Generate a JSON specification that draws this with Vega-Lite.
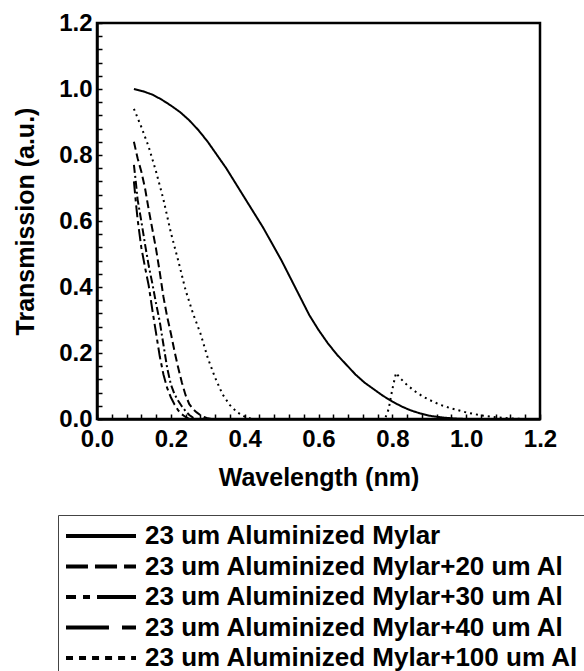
{
  "$schema": "https://vega.github.io/schema/vega-lite/v6.json",
  "autosize": {"type": "none"},
  "padding": {"left": 97, "top": 23, "right": 44, "bottom": 252},
  "width": 443,
  "height": 396,
  "background": "white",
  "config": {
    "font": "Liberation Sans",
    "view": {"stroke": "black", "strokeWidth": 2.5},
    "axis": {
      "domainColor": "black", "domainWidth": 2.5, "grid": false,
      "tickColor": "black", "tickWidth": 1.5, "tickSize": -5,
      "labelFont": "Liberation Sans", "labelFontWeight": "bold", "labelFontSize": 24, "labelColor": "black",
      "titleFont": "Liberation Sans", "titleFontWeight": "bold", "titleFontSize": 25, "titleColor": "black"
    }
  },
  "data": {"values": [
    {"s": "23 um Aluminized Mylar", "x": 0.1, "y": 1.0},
    {"s": "23 um Aluminized Mylar", "x": 0.125, "y": 0.993},
    {"s": "23 um Aluminized Mylar", "x": 0.15, "y": 0.983},
    {"s": "23 um Aluminized Mylar", "x": 0.175, "y": 0.968},
    {"s": "23 um Aluminized Mylar", "x": 0.2, "y": 0.95},
    {"s": "23 um Aluminized Mylar", "x": 0.225, "y": 0.93},
    {"s": "23 um Aluminized Mylar", "x": 0.25, "y": 0.905},
    {"s": "23 um Aluminized Mylar", "x": 0.275, "y": 0.875},
    {"s": "23 um Aluminized Mylar", "x": 0.3, "y": 0.84},
    {"s": "23 um Aluminized Mylar", "x": 0.325, "y": 0.8},
    {"s": "23 um Aluminized Mylar", "x": 0.35, "y": 0.76},
    {"s": "23 um Aluminized Mylar", "x": 0.375, "y": 0.715},
    {"s": "23 um Aluminized Mylar", "x": 0.4, "y": 0.67},
    {"s": "23 um Aluminized Mylar", "x": 0.425, "y": 0.625},
    {"s": "23 um Aluminized Mylar", "x": 0.45, "y": 0.58},
    {"s": "23 um Aluminized Mylar", "x": 0.475, "y": 0.53},
    {"s": "23 um Aluminized Mylar", "x": 0.5, "y": 0.48},
    {"s": "23 um Aluminized Mylar", "x": 0.525, "y": 0.425},
    {"s": "23 um Aluminized Mylar", "x": 0.55, "y": 0.37},
    {"s": "23 um Aluminized Mylar", "x": 0.575, "y": 0.315},
    {"s": "23 um Aluminized Mylar", "x": 0.6, "y": 0.27},
    {"s": "23 um Aluminized Mylar", "x": 0.625, "y": 0.23},
    {"s": "23 um Aluminized Mylar", "x": 0.65, "y": 0.195},
    {"s": "23 um Aluminized Mylar", "x": 0.675, "y": 0.165},
    {"s": "23 um Aluminized Mylar", "x": 0.7, "y": 0.135},
    {"s": "23 um Aluminized Mylar", "x": 0.725, "y": 0.11},
    {"s": "23 um Aluminized Mylar", "x": 0.75, "y": 0.09},
    {"s": "23 um Aluminized Mylar", "x": 0.775, "y": 0.07},
    {"s": "23 um Aluminized Mylar", "x": 0.8, "y": 0.053},
    {"s": "23 um Aluminized Mylar", "x": 0.825, "y": 0.038},
    {"s": "23 um Aluminized Mylar", "x": 0.85, "y": 0.026},
    {"s": "23 um Aluminized Mylar", "x": 0.875, "y": 0.017},
    {"s": "23 um Aluminized Mylar", "x": 0.9, "y": 0.01},
    {"s": "23 um Aluminized Mylar", "x": 0.925, "y": 0.006},
    {"s": "23 um Aluminized Mylar", "x": 0.95, "y": 0.003},
    {"s": "23 um Aluminized Mylar", "x": 0.975, "y": 0.001},
    {"s": "23 um Aluminized Mylar", "x": 1.0, "y": 0.0},

    {"s": "23 um Aluminized Mylar+20 um Al", "x": 0.1, "y": 0.84},
    {"s": "23 um Aluminized Mylar+20 um Al", "x": 0.11, "y": 0.79},
    {"s": "23 um Aluminized Mylar+20 um Al", "x": 0.12, "y": 0.75},
    {"s": "23 um Aluminized Mylar+20 um Al", "x": 0.13, "y": 0.7},
    {"s": "23 um Aluminized Mylar+20 um Al", "x": 0.14, "y": 0.635},
    {"s": "23 um Aluminized Mylar+20 um Al", "x": 0.15, "y": 0.575},
    {"s": "23 um Aluminized Mylar+20 um Al", "x": 0.16, "y": 0.515},
    {"s": "23 um Aluminized Mylar+20 um Al", "x": 0.17, "y": 0.445},
    {"s": "23 um Aluminized Mylar+20 um Al", "x": 0.18, "y": 0.37},
    {"s": "23 um Aluminized Mylar+20 um Al", "x": 0.19, "y": 0.31},
    {"s": "23 um Aluminized Mylar+20 um Al", "x": 0.2, "y": 0.26},
    {"s": "23 um Aluminized Mylar+20 um Al", "x": 0.21, "y": 0.205},
    {"s": "23 um Aluminized Mylar+20 um Al", "x": 0.22, "y": 0.155},
    {"s": "23 um Aluminized Mylar+20 um Al", "x": 0.23, "y": 0.11},
    {"s": "23 um Aluminized Mylar+20 um Al", "x": 0.24, "y": 0.072},
    {"s": "23 um Aluminized Mylar+20 um Al", "x": 0.25, "y": 0.045},
    {"s": "23 um Aluminized Mylar+20 um Al", "x": 0.26, "y": 0.03},
    {"s": "23 um Aluminized Mylar+20 um Al", "x": 0.27, "y": 0.02},
    {"s": "23 um Aluminized Mylar+20 um Al", "x": 0.28, "y": 0.012},
    {"s": "23 um Aluminized Mylar+20 um Al", "x": 0.29, "y": 0.006},
    {"s": "23 um Aluminized Mylar+20 um Al", "x": 0.3, "y": 0.002},
    {"s": "23 um Aluminized Mylar+20 um Al", "x": 0.31, "y": 0.0},

    {"s": "23 um Aluminized Mylar+30 um Al", "x": 0.1, "y": 0.77},
    {"s": "23 um Aluminized Mylar+30 um Al", "x": 0.105, "y": 0.72},
    {"s": "23 um Aluminized Mylar+30 um Al", "x": 0.11, "y": 0.665},
    {"s": "23 um Aluminized Mylar+30 um Al", "x": 0.12, "y": 0.6},
    {"s": "23 um Aluminized Mylar+30 um Al", "x": 0.13, "y": 0.53},
    {"s": "23 um Aluminized Mylar+30 um Al", "x": 0.14, "y": 0.465},
    {"s": "23 um Aluminized Mylar+30 um Al", "x": 0.15, "y": 0.41},
    {"s": "23 um Aluminized Mylar+30 um Al", "x": 0.16, "y": 0.35},
    {"s": "23 um Aluminized Mylar+30 um Al", "x": 0.17, "y": 0.295},
    {"s": "23 um Aluminized Mylar+30 um Al", "x": 0.18, "y": 0.225},
    {"s": "23 um Aluminized Mylar+30 um Al", "x": 0.19, "y": 0.155},
    {"s": "23 um Aluminized Mylar+30 um Al", "x": 0.2, "y": 0.105},
    {"s": "23 um Aluminized Mylar+30 um Al", "x": 0.21, "y": 0.075},
    {"s": "23 um Aluminized Mylar+30 um Al", "x": 0.22, "y": 0.055},
    {"s": "23 um Aluminized Mylar+30 um Al", "x": 0.23, "y": 0.038},
    {"s": "23 um Aluminized Mylar+30 um Al", "x": 0.24, "y": 0.024},
    {"s": "23 um Aluminized Mylar+30 um Al", "x": 0.25, "y": 0.012},
    {"s": "23 um Aluminized Mylar+30 um Al", "x": 0.26, "y": 0.004},
    {"s": "23 um Aluminized Mylar+30 um Al", "x": 0.27, "y": 0.0},

    {"s": "23 um Aluminized Mylar+40 um Al", "x": 0.1, "y": 0.72},
    {"s": "23 um Aluminized Mylar+40 um Al", "x": 0.105, "y": 0.66},
    {"s": "23 um Aluminized Mylar+40 um Al", "x": 0.11, "y": 0.605},
    {"s": "23 um Aluminized Mylar+40 um Al", "x": 0.12, "y": 0.52},
    {"s": "23 um Aluminized Mylar+40 um Al", "x": 0.13, "y": 0.46},
    {"s": "23 um Aluminized Mylar+40 um Al", "x": 0.14, "y": 0.405},
    {"s": "23 um Aluminized Mylar+40 um Al", "x": 0.15, "y": 0.33},
    {"s": "23 um Aluminized Mylar+40 um Al", "x": 0.16, "y": 0.26},
    {"s": "23 um Aluminized Mylar+40 um Al", "x": 0.17, "y": 0.19},
    {"s": "23 um Aluminized Mylar+40 um Al", "x": 0.18, "y": 0.135},
    {"s": "23 um Aluminized Mylar+40 um Al", "x": 0.19, "y": 0.094},
    {"s": "23 um Aluminized Mylar+40 um Al", "x": 0.2, "y": 0.066},
    {"s": "23 um Aluminized Mylar+40 um Al", "x": 0.21, "y": 0.044},
    {"s": "23 um Aluminized Mylar+40 um Al", "x": 0.22, "y": 0.026},
    {"s": "23 um Aluminized Mylar+40 um Al", "x": 0.23, "y": 0.014},
    {"s": "23 um Aluminized Mylar+40 um Al", "x": 0.24, "y": 0.006},
    {"s": "23 um Aluminized Mylar+40 um Al", "x": 0.25, "y": 0.0},

    {"s": "23 um Aluminized Mylar+100 um Al", "x": 0.1, "y": 0.94},
    {"s": "23 um Aluminized Mylar+100 um Al", "x": 0.12, "y": 0.885},
    {"s": "23 um Aluminized Mylar+100 um Al", "x": 0.14, "y": 0.825},
    {"s": "23 um Aluminized Mylar+100 um Al", "x": 0.16, "y": 0.75},
    {"s": "23 um Aluminized Mylar+100 um Al", "x": 0.18, "y": 0.665},
    {"s": "23 um Aluminized Mylar+100 um Al", "x": 0.2, "y": 0.565},
    {"s": "23 um Aluminized Mylar+100 um Al", "x": 0.22, "y": 0.48},
    {"s": "23 um Aluminized Mylar+100 um Al", "x": 0.24, "y": 0.39},
    {"s": "23 um Aluminized Mylar+100 um Al", "x": 0.26, "y": 0.32},
    {"s": "23 um Aluminized Mylar+100 um Al", "x": 0.28, "y": 0.26},
    {"s": "23 um Aluminized Mylar+100 um Al", "x": 0.3, "y": 0.185},
    {"s": "23 um Aluminized Mylar+100 um Al", "x": 0.32, "y": 0.125},
    {"s": "23 um Aluminized Mylar+100 um Al", "x": 0.34, "y": 0.075},
    {"s": "23 um Aluminized Mylar+100 um Al", "x": 0.36, "y": 0.042},
    {"s": "23 um Aluminized Mylar+100 um Al", "x": 0.38, "y": 0.02},
    {"s": "23 um Aluminized Mylar+100 um Al", "x": 0.4, "y": 0.007},
    {"s": "23 um Aluminized Mylar+100 um Al", "x": 0.42, "y": 0.0},
    {"s": "23 um Aluminized Mylar+100 um Al", "x": 0.6, "y": 0.0},
    {"s": "23 um Aluminized Mylar+100 um Al", "x": 0.78, "y": 0.0},
    {"s": "23 um Aluminized Mylar+100 um Al", "x": 0.79, "y": 0.03},
    {"s": "23 um Aluminized Mylar+100 um Al", "x": 0.8, "y": 0.09},
    {"s": "23 um Aluminized Mylar+100 um Al", "x": 0.81, "y": 0.14},
    {"s": "23 um Aluminized Mylar+100 um Al", "x": 0.82, "y": 0.125},
    {"s": "23 um Aluminized Mylar+100 um Al", "x": 0.84, "y": 0.103},
    {"s": "23 um Aluminized Mylar+100 um Al", "x": 0.86, "y": 0.085},
    {"s": "23 um Aluminized Mylar+100 um Al", "x": 0.88, "y": 0.07},
    {"s": "23 um Aluminized Mylar+100 um Al", "x": 0.9, "y": 0.058},
    {"s": "23 um Aluminized Mylar+100 um Al", "x": 0.93, "y": 0.043},
    {"s": "23 um Aluminized Mylar+100 um Al", "x": 0.96, "y": 0.032},
    {"s": "23 um Aluminized Mylar+100 um Al", "x": 1.0, "y": 0.02},
    {"s": "23 um Aluminized Mylar+100 um Al", "x": 1.04, "y": 0.011},
    {"s": "23 um Aluminized Mylar+100 um Al", "x": 1.08, "y": 0.005},
    {"s": "23 um Aluminized Mylar+100 um Al", "x": 1.12, "y": 0.002},
    {"s": "23 um Aluminized Mylar+100 um Al", "x": 1.16, "y": 0.0}
  ]},
  "encoding": {
    "x": {
      "field": "x", "type": "quantitative",
      "scale": {"domain": [0, 1.2], "nice": false},
      "axis": {
        "title": "Wavelength (nm)",
        "values": [0,0.04,0.08,0.12,0.16,0.2,0.24,0.28,0.32,0.36,0.4,0.44,0.48,0.52,0.56,0.6,0.64,0.68,0.72,0.76,0.8,0.84,0.88,0.92,0.96,1.0,1.04,1.08,1.12,1.16,1.2],
        "labelExpr": "abs(datum.value*5-round(datum.value*5))<0.01 ? format(datum.value,'.1f') : ''",
        "labelPadding": 13,
        "labelFlush": false,
        "labelOverlap": false,
        "titlePadding": 14
      }
    },
    "y": {
      "field": "y", "type": "quantitative",
      "scale": {"domain": [0, 1.2], "nice": false},
      "axis": {
        "title": "Transmission (a.u.)",
        "values": [0,0.04,0.08,0.12,0.16,0.2,0.24,0.28,0.32,0.36,0.4,0.44,0.48,0.52,0.56,0.6,0.64,0.68,0.72,0.76,0.8,0.84,0.88,0.92,0.96,1.0,1.04,1.08,1.12,1.16,1.2],
        "labelExpr": "abs(datum.value*5-round(datum.value*5))<0.01 ? format(datum.value,'.1f') : ''",
        "labelPadding": 10,
        "labelFlush": false,
        "labelOverlap": false,
        "titlePadding": 20
      }
    }
  },
  "layer": [
    {
      "mark": {"type": "line", "color": "black", "strokeWidth": 2},
      "encoding": {
        "strokeDash": {
          "field": "s", "type": "nominal",
          "scale": {
            "range": [[1, 0], [2, 4], [8, 4], [8, 3, 2, 3], [12, 4, 4, 4]]
          },
          "legend": null
        }
      }
    },
    {
      "mark": {"type": "point", "color": "black", "filled": false, "opacity": 0},
      "encoding": {
        "shape": {
          "field": "s", "type": "nominal",
          "scale": {
            "domain": ["23 um Aluminized Mylar", "23 um Aluminized Mylar+20 um Al", "23 um Aluminized Mylar+30 um Al", "23 um Aluminized Mylar+40 um Al", "23 um Aluminized Mylar+100 um Al"],
            "range": [
              "M-5,0H5",
              "M-5,0H-1.86M-0.86,0H2.29M3.29,0H5",
              "M-5,0H-3.57M-2.57,0H-1.57M-0.57,0H5",
              "M-5,0H1.14M3,0H5",
              "M-5,0H-4M-3.14,0H-2.14M-1.28,0H-0.28M0.58,0H1.58M2.44,0H3.44M4.3,0H5"
            ]
          },
          "legend": {
            "orient": "none", "legendX": -39, "legendY": 492, "direction": "vertical",
            "title": null,
            "symbolSize": 196, "symbolStrokeWidth": 4, "symbolOpacity": 1,
            "symbolStrokeColor": "black", "symbolFillColor": "transparent",
            "symbolOffset": 22, "labelOffset": 31,
            "labelFont": "Liberation Sans", "labelFontWeight": "bold", "labelFontSize": 26, "labelColor": "black", "labelLimit": 0,
            "rowPadding": 4.5, "padding": 8,
            "strokeColor": "#444",
            "encode": {
              "legend": {"strokeWidth": {"value": 3}},
              "labels": {"dy": {"value": -4}}
            }
          }
        }
      }
    }
  ]
}
